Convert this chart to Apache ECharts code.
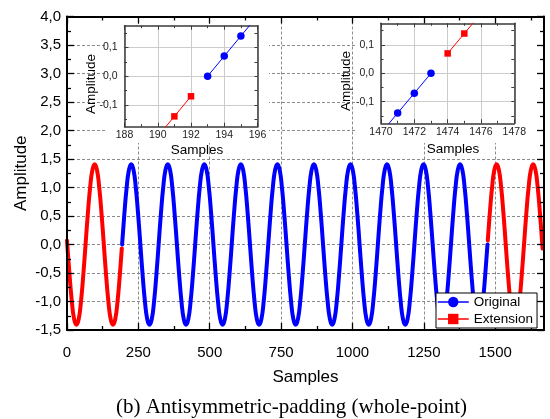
<!DOCTYPE html>
<html>
<head>
<meta charset="utf-8">
<script src="https://cdn.jsdelivr.net/npm/echarts@6/dist/echarts.min.js"></script>
<style>
  html, body { margin: 0; padding: 0; background: #fff; }
  #chart { width: 550px; height: 419px; }
</style>
</head>
<body>
<div id="chart"></div>
<script>
// ---- Padded signal, every 8th sample plus the samples at each seam ----
const leftExtSamples = [0, 1, 9, 17, 25, 33, 41, 49, 57, 65, 73, 81, 89, 97, 105, 113, 121,
  129, 137, 145, 153, 161, 169, 177, 185, 192];
const leftExtValues = [0.07, 0, -0.54, -1.00, -1.31, -1.41, -1.31, -1.00, -0.54, 0, 0.54, 1.00, 1.31, 1.41, 1.31, 1.00, 0.54,
  0, -0.54, -1.00, -1.31, -1.41, -1.31, -1.00, -0.54, -0.07];

const originalSamples = [
  193, 201, 209, 217, 225, 233, 241, 249, 257, 265, 273, 281, 289, 297, 305, 313,
  321, 329, 337, 345, 353, 361, 369, 377, 385, 393, 401, 409, 417, 425, 433, 441,
  449, 457, 465, 473, 481, 489, 497, 505, 513, 521, 529, 537, 545, 553, 561, 569,
  577, 585, 593, 601, 609, 617, 625, 633, 641, 649, 657, 665, 673, 681, 689, 697,
  705, 713, 721, 729, 737, 745, 753, 761, 769, 777, 785, 793, 801, 809, 817, 825,
  833, 841, 849, 857, 865, 873, 881, 889, 897, 905, 913, 921, 929, 937, 945, 953,
  961, 969, 977, 985, 993, 1001, 1009, 1017, 1025, 1033, 1041, 1049, 1057, 1065, 1073, 1081,
  1089, 1097, 1105, 1113, 1121, 1129, 1137, 1145, 1153, 1161, 1169, 1177, 1185, 1193, 1201, 1209,
  1217, 1225, 1233, 1241, 1249, 1257, 1265, 1273, 1281, 1289, 1297, 1305, 1313, 1321, 1329, 1337,
  1345, 1353, 1361, 1369, 1377, 1385, 1393, 1401, 1409, 1417, 1425, 1433, 1441, 1449, 1457, 1465,
  1473];
const originalValues = [
  0, 0.54, 1.00, 1.31, 1.41, 1.31, 1.00, 0.54, 0, -0.54, -1.00, -1.31, -1.41, -1.31, -1.00, -0.54,
  0, 0.54, 1.00, 1.31, 1.41, 1.31, 1.00, 0.54, 0, -0.54, -1.00, -1.31, -1.41, -1.31, -1.00, -0.54,
  0, 0.54, 1.00, 1.31, 1.41, 1.31, 1.00, 0.54, 0, -0.54, -1.00, -1.31, -1.41, -1.31, -1.00, -0.54,
  0, 0.54, 1.00, 1.31, 1.41, 1.31, 1.00, 0.54, 0, -0.54, -1.00, -1.31, -1.41, -1.31, -1.00, -0.54,
  0, 0.54, 1.00, 1.31, 1.41, 1.31, 1.00, 0.54, 0, -0.54, -1.00, -1.31, -1.41, -1.31, -1.00, -0.54,
  0, 0.54, 1.00, 1.31, 1.41, 1.31, 1.00, 0.54, 0, -0.54, -1.00, -1.31, -1.41, -1.31, -1.00, -0.54,
  0, 0.54, 1.00, 1.31, 1.41, 1.31, 1.00, 0.54, 0, -0.54, -1.00, -1.31, -1.41, -1.31, -1.00, -0.54,
  0, 0.54, 1.00, 1.31, 1.41, 1.31, 1.00, 0.54, 0, -0.54, -1.00, -1.31, -1.41, -1.31, -1.00, -0.54,
  0, 0.54, 1.00, 1.31, 1.41, 1.31, 1.00, 0.54, 0, -0.54, -1.00, -1.31, -1.41, -1.31, -1.00, -0.54,
  0, 0.54, 1.00, 1.31, 1.41, 1.31, 1.00, 0.54, 0, -0.54, -1.00, -1.31, -1.41, -1.31, -1.00, -0.54,
  0];

const rightExtSamples = [1474, 1481, 1489, 1497, 1505, 1513, 1521, 1529, 1537, 1545, 1553, 1561, 1569,
  1577, 1585, 1593, 1601, 1609, 1617, 1625, 1633, 1641, 1649, 1657, 1665, 1666];
const rightExtValues = [0.07, 0.54, 1.00, 1.31, 1.41, 1.31, 1.00, 0.54, 0, -0.54, -1.00, -1.31, -1.41,
  -1.31, -1.00, -0.54, 0, 0.54, 1.00, 1.31, 1.41, 1.31, 1.00, 0.54, 0, -0.07];

// ---- Close-ups of the two seams (sample by sample) ----
const seamLeftExtSamples = [188, 189, 190, 191, 192];
const seamLeftExtValues = [-0.35, -0.28, -0.21, -0.14, -0.07];
const seamLeftOrigSamples = [193, 194, 195, 196, 197];
const seamLeftOrigValues = [0, 0.07, 0.14, 0.21, 0.28];

const seamRightOrigSamples = [1469, 1470, 1471, 1472, 1473];
const seamRightOrigValues = [-0.28, -0.21, -0.14, -0.07, 0];
const seamRightExtSamples = [1474, 1475, 1476, 1477, 1478];
const seamRightExtValues = [0.07, 0.14, 0.21, 0.28, 0.35];

// ---- Tick positions ----
const mainXTicks = [0, 250, 500, 750, 1000, 1250, 1500];
const mainXMinorTicks = [125, 375, 625, 875, 1125, 1375, 1625];
const insetYTicks = [-0.1, 0, 0.1];
const insetYMinorTicks = [-0.15, -0.05, 0.05, 0.15];
const insetYAllTicks = [-0.15, -0.1, -0.05, 0, 0.05, 0.1, 0.15];

const X_MAX = 1671;
const INSET_Y = 0.176;

const BLUE = '#0000ff';
const RED = '#ff0000';
const FONT = '"Liberation Sans", Arial, sans-serif';
const SERIF = '"Liberation Serif", "Times New Roman", serif';

const pairs = (xs, ys) => xs.map((x, i) => [x, ys[i]]);
const comma = v => v.toFixed(1).replace('.', ',');
const plain = v => String(v);

const frameLine = { show: true, onZero: false, lineStyle: { color: '#000', width: 2 } };
const tickLine = { color: '#000', width: 1.3 };
const insetLine = { show: true, onZero: false, lineStyle: { color: '#3a3a3a', width: 1.5 } };
const insetTickLine = { color: '#3a3a3a', width: 1 };
const insetGrid = { show: true, lineStyle: { color: '#cccccc', width: 1 } };
const noLine = { show: false, onZero: false };
const none = { show: false };

function mainX(position, extra) {
  return Object.assign({
    gridIndex: 0, type: 'value', min: 0, max: X_MAX, position,
    axisLine: noLine, axisTick: none, axisLabel: none, splitLine: none, z: 6
  }, extra);
}
function mainY(position, extra) {
  return Object.assign({
    gridIndex: 0, type: 'value', min: -1.5, max: 4, interval: 0.5, position,
    axisLine: noLine, axisTick: none, axisLabel: none, splitLine: none, z: 6
  }, extra);
}
function insetX(grid, min, max, position, withLabels) {
  return {
    gridIndex: grid, type: 'value', min, max, interval: 2, position,
    axisLine: insetLine,
    axisTick: { show: true, inside: true, length: 4, lineStyle: insetTickLine },
    minorTick: { show: true, splitNumber: 2, length: 2.5, lineStyle: insetTickLine },
    axisLabel: withLabels
      ? { show: true, formatter: plain, margin: 3, fontSize: 10.5, color: '#222', fontFamily: FONT }
      : none,
    splitLine: withLabels ? insetGrid : none,
    z: 8
  };
}
function insetY(grid, position, kind) {
  const base = {
    gridIndex: grid, type: 'value', min: -INSET_Y, max: INSET_Y, position,
    axisLine: noLine, axisTick: none, axisLabel: none, splitLine: none, z: 8
  };
  if (kind === 'major') {
    base.axisLine = insetLine;
    base.axisTick = { show: true, inside: true, length: 4, customValues: insetYTicks, lineStyle: insetTickLine };
    base.axisLabel = { show: true, customValues: insetYTicks, formatter: comma, margin: 7,
      fontSize: 10.5, color: '#222', fontFamily: FONT };
    base.splitLine = insetGrid;
  } else if (kind === 'minor') {
    base.axisTick = { show: true, inside: true, length: 2.5, customValues: insetYMinorTicks, lineStyle: insetTickLine };
  } else {
    base.axisLine = insetLine;
    base.axisTick = { show: true, inside: true, length: 3, customValues: insetYAllTicks, lineStyle: insetTickLine };
  }
  return base;
}

const mainCurve = color => ({ color, width: 4, cap: 'round', join: 'round' });

const option = {
  animation: false,
  backgroundColor: '#fff',
  grid: [
    { left: 67, top: 16.5, width: 477, height: 313.5 },
    { left: 124.5, top: 25.7, width: 133, height: 101 },
    { left: 381, top: 23.3, width: 133.3, height: 100 }
  ],
  xAxis: [
    mainX('bottom', {
      axisLine: frameLine,
      axisTick: { show: true, inside: true, length: 7, customValues: mainXTicks, lineStyle: tickLine },
      axisLabel: { show: true, customValues: mainXTicks, formatter: plain, margin: 15, fontSize: 15, color: '#000', fontFamily: FONT },
      name: 'Samples', nameLocation: 'middle', nameGap: 39, nameMoveOverlap: false,
      nameTextStyle: { fontSize: 17, color: '#000', fontFamily: FONT }
    }),
    mainX('top', {
      axisLine: frameLine,
      axisTick: { show: true, inside: true, length: 7, customValues: mainXTicks, lineStyle: tickLine }
    }),
    mainX('bottom', { axisTick: { show: true, inside: true, length: 4, customValues: mainXMinorTicks, lineStyle: tickLine } }),
    mainX('top', { axisTick: { show: true, inside: true, length: 4, customValues: mainXMinorTicks, lineStyle: tickLine } }),
    mainX('bottom', {
      axisTick: { show: false, customValues: mainXTicks },
      splitLine: { show: true, lineStyle: { color: '#8a8a8a', width: 1, type: [3, 2] } },
      z: 0
    }),
    insetX(1, 188, 196, 'bottom', true),
    insetX(1, 188, 196, 'top', false),
    insetX(2, 1470, 1478, 'bottom', true),
    insetX(2, 1470, 1478, 'top', false)
  ],
  yAxis: [
    mainY('left', {
      axisLine: frameLine,
      axisTick: { show: true, inside: true, length: 7, lineStyle: tickLine },
      minorTick: { show: true, splitNumber: 2, length: 4, lineStyle: tickLine },
      axisLabel: { show: true, formatter: comma, margin: 6, fontSize: 15, color: '#000', fontFamily: FONT },
      name: 'Amplitude', nameLocation: 'middle', nameGap: 37, nameMoveOverlap: false,
      nameTextStyle: { fontSize: 17, color: '#000', fontFamily: FONT }
    }),
    mainY('right', {
      axisLine: frameLine,
      axisTick: { show: true, inside: true, length: 7, lineStyle: tickLine },
      minorTick: { show: true, splitNumber: 2, length: 4, lineStyle: tickLine }
    }),
    mainY('left', {
      splitLine: { show: true, lineStyle: { color: '#8a8a8a', width: 1, type: [3, 2] } },
      z: 0
    }),
    insetY(1, 'left', 'major'),
    insetY(1, 'left', 'minor'),
    insetY(1, 'right', 'all'),
    insetY(2, 'left', 'major'),
    insetY(2, 'left', 'minor'),
    insetY(2, 'right', 'all')
  ],
  legend: {
    orient: 'vertical', left: 436, top: 293,
    data: ['Original', 'Extension'],
    itemWidth: 31, itemHeight: 13, itemGap: 3,
    padding: [2, 4, 2, 1],
    borderColor: '#000', borderWidth: 1, borderRadius: 0, backgroundColor: '#fff',
    textStyle: { fontSize: 13.5, color: '#000', fontFamily: FONT },
    lineStyle: { width: 1.5 },
    selectedMode: false, z: 10
  },
  graphic: [
    // white panels behind the two close-ups (hide the main dashed grid there)
    { type: 'rect', z: 3, silent: true, shape: { x: 107, y: 24, width: 162, height: 119 }, style: { fill: '#fff' } },
    { type: 'rect', z: 3, silent: true, shape: { x: 356, y: 24, width: 180, height: 119 }, style: { fill: '#fff' } },
    { type: 'text', z: 9, x: 91.5, y: 84, rotation: Math.PI / 2,
      style: { text: 'Amplitude', font: '13.5px ' + FONT, fill: '#000', textAlign: 'center', textVerticalAlign: 'middle' } },
    { type: 'text', z: 9, x: 197, y: 150,
      style: { text: 'Samples', font: '13.5px ' + FONT, fill: '#000', textAlign: 'center', textVerticalAlign: 'middle' } },
    { type: 'text', z: 9, x: 346.5, y: 81, rotation: Math.PI / 2,
      style: { text: 'Amplitude', font: '13.5px ' + FONT, fill: '#000', textAlign: 'center', textVerticalAlign: 'middle' } },
    { type: 'text', z: 9, x: 453, y: 149.5,
      style: { text: 'Samples', font: '13.5px ' + FONT, fill: '#000', textAlign: 'center', textVerticalAlign: 'middle' } },
    { type: 'text', z: 9, x: 291.5, y: 407,
      style: { text: '(b) Antisymmetric-padding (whole-point)', font: '21px ' + SERIF, fill: '#000',
        textAlign: 'center', textVerticalAlign: 'middle' } }
  ],
  series: [
    // close-up of the left seam
    { name: 'Original', type: 'line', xAxisIndex: 5, yAxisIndex: 3, data: pairs(seamLeftOrigSamples, seamLeftOrigValues),
      symbol: 'circle', symbolSize: 7.5, showAllSymbol: true, clip: true,
      lineStyle: { color: BLUE, width: 1 }, itemStyle: { color: BLUE }, z: 9 },
    { name: 'Extension', type: 'line', xAxisIndex: 5, yAxisIndex: 3, data: pairs(seamLeftExtSamples, seamLeftExtValues),
      symbol: 'rect', symbolSize: 6.5, showAllSymbol: true, clip: true,
      lineStyle: { color: RED, width: 1 }, itemStyle: { color: RED }, z: 9 },
    // close-up of the right seam
    { name: 'Original', type: 'line', xAxisIndex: 7, yAxisIndex: 6, data: pairs(seamRightOrigSamples, seamRightOrigValues),
      symbol: 'circle', symbolSize: 7.5, showAllSymbol: true, clip: true,
      lineStyle: { color: BLUE, width: 1 }, itemStyle: { color: BLUE }, z: 9 },
    { name: 'Extension', type: 'line', xAxisIndex: 7, yAxisIndex: 6, data: pairs(seamRightExtSamples, seamRightExtValues),
      symbol: 'rect', symbolSize: 6.5, showAllSymbol: true, clip: true,
      lineStyle: { color: RED, width: 1 }, itemStyle: { color: RED }, z: 9 },
    // full padded signal
    { name: 'Extension', type: 'line', xAxisIndex: 0, yAxisIndex: 0, data: pairs(leftExtSamples, leftExtValues),
      smooth: true, showSymbol: false, lineStyle: mainCurve(RED), itemStyle: { color: RED }, z: 2 },
    { name: 'Original', type: 'line', xAxisIndex: 0, yAxisIndex: 0, data: pairs(originalSamples, originalValues),
      smooth: true, showSymbol: false, lineStyle: mainCurve(BLUE), itemStyle: { color: BLUE }, z: 2 },
    { name: 'Extension', type: 'line', xAxisIndex: 0, yAxisIndex: 0, data: pairs(rightExtSamples, rightExtValues),
      smooth: true, showSymbol: false, lineStyle: mainCurve(RED), itemStyle: { color: RED }, z: 2 }
  ]
};

const chart = echarts.init(document.getElementById('chart'), null, { renderer: 'canvas' });
chart.setOption(option);
</script>
</body>
</html>
